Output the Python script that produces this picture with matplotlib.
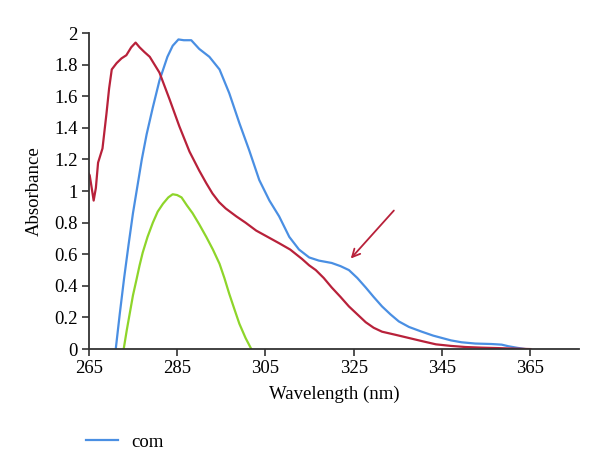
import matplotlib
matplotlib.use("Agg")
import matplotlib.pyplot as plt

# values
com_x = [271.1, 272.0, 273.0, 274.0, 275.0, 276.0, 277.0, 278.1, 279.5, 281.0, 282.8, 284.0,
         285.3, 286.5, 288.2, 290.0, 292.3, 294.6, 296.8, 299.1, 301.3, 303.6, 305.9, 308.1,
         310.4, 312.6, 314.9, 317.1, 320.0, 322.0, 323.9, 325.8, 327.7, 329.5, 331.4, 333.3,
         335.2, 337.5, 340.4, 343.0, 345.0, 347.0, 349.4, 352.5, 356.2, 358.5, 360.0, 362.0,
         363.9]
com_y = [0.0, 0.22, 0.45, 0.66, 0.86, 1.03, 1.20, 1.36, 1.53, 1.70, 1.85, 1.92,
         1.96, 1.955, 1.955, 1.90, 1.85, 1.77, 1.62, 1.43, 1.26, 1.07, 0.94, 0.84,
         0.71, 0.63, 0.58, 0.56, 0.545, 0.525, 0.50, 0.45, 0.39, 0.33, 0.27, 0.22,
         0.175, 0.14, 0.11, 0.085, 0.07, 0.055, 0.043, 0.035, 0.032, 0.028, 0.018, 0.008,
         0.0]

red_x = [265.0, 265.2, 265.6, 266.1, 266.6, 267.1, 268.1, 269.0, 269.6, 270.2, 271.3, 272.4,
         273.5, 274.6, 275.6, 276.5, 277.6, 278.8, 279.9, 281.0, 283.3, 285.5, 287.8, 290.0,
         291.6, 293.0, 294.5, 296.0, 298.4, 300.5, 302.9, 305.5, 308.1, 310.6, 313.3, 314.9,
         316.4, 318.2, 320.0, 322.0, 323.9, 325.8, 327.7, 329.5, 331.4, 334.5, 337.5, 340.5,
         343.6, 347.0, 350.3, 354.0, 357.8, 361.0, 365.0]
red_y = [1.11, 1.10, 1.03, 0.94, 1.02, 1.18, 1.27, 1.49, 1.65, 1.77, 1.81, 1.84,
         1.86, 1.91, 1.94, 1.91, 1.88, 1.85, 1.80, 1.75, 1.58, 1.41, 1.25, 1.13,
         1.05, 0.985, 0.93, 0.89, 0.84, 0.80, 0.75, 0.71, 0.67, 0.63, 0.57, 0.53,
         0.50, 0.45, 0.39, 0.33, 0.27, 0.22, 0.17, 0.135, 0.11, 0.09, 0.07, 0.05,
         0.03, 0.02, 0.013, 0.009, 0.006, 0.003, 0.0]

grn_x = [272.9, 273.6, 274.3, 275.0, 275.8, 276.5, 277.2, 278.3, 279.5, 280.6, 281.8, 283.0,
         284.0, 285.0, 286.0, 287.2, 288.5, 290.0, 291.6, 293.1, 294.6, 295.7, 296.8, 298.0,
         299.1, 300.5, 301.8]
grn_y = [0.0, 0.12, 0.23, 0.34, 0.44, 0.53, 0.61, 0.71, 0.80, 0.87, 0.92, 0.96,
         0.98, 0.975, 0.96, 0.91, 0.86, 0.79, 0.71, 0.63, 0.54, 0.45, 0.35, 0.25,
         0.16, 0.07, 0.0]

xticks = [265, 285, 305, 325, 345, 365]
yticks = [0, 0.2, 0.4, 0.6, 0.8, 1, 1.2, 1.4, 1.6, 1.8, 2]

plt.rcParams['font.family'] = ['Liberation Serif', 'DejaVu Serif']
plt.rcParams['font.size'] = 13.5

fig = plt.figure(figsize=(6, 4.73), dpi=100)
ax = fig.add_axes([0.148, 0.262, 0.817, 0.668])

line_com, = ax.plot(com_x, com_y, color='#4A8FE3', lw=1.6, label='com')
ax.plot(red_x, red_y, color='#B8213A', lw=1.6)
ax.plot(grn_x, grn_y, color='#8ED52A', lw=1.6)

ax.annotate('', xy=(323.9, 0.56), xytext=(334.5, 0.89),
            arrowprops=dict(arrowstyle='->', color='#B8213A', lw=1.3, mutation_scale=14))

ax.set_xlim(265, 376)
ax.set_ylim(0, 2)
ax.set_xticks(xticks)
ax.set_xticklabels([str(t) for t in xticks])
ax.set_yticks(yticks)
ax.set_yticklabels(['%g' % t for t in yticks])
ax.tick_params(direction='out', length=5, width=1.2, color='#333333', pad=3)
ax.spines['top'].set_visible(False)
ax.spines['right'].set_visible(False)
for s in ['left', 'bottom']:
    ax.spines[s].set_linewidth(1.3)
    ax.spines[s].set_color('#333333')

ax.set_xlabel('Wavelength (nm)', labelpad=6)
ax.set_ylabel('Absorbance', labelpad=8)

fig.legend(handles=[line_com], loc='center left', bbox_to_anchor=(0.115, 0.065),
           frameon=False, handlelength=1.7, handletextpad=0.7)

fig.savefig('out.png', dpi=100)
